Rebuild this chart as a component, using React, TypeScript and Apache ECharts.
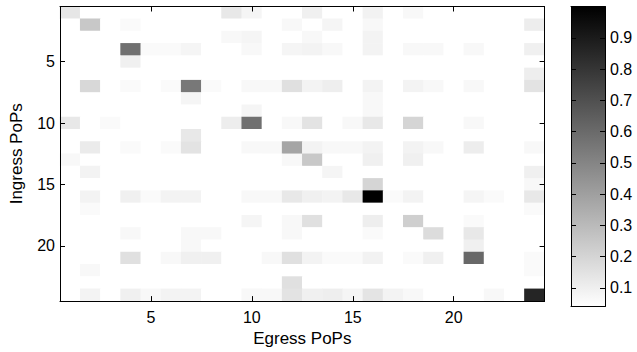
import React, { useEffect, useRef } from "react";
import * as echarts from "echarts";

// floor value (white cells)
const _ = 0.04;
const CMIN = 0.04;
const CMAX = 1.0;

const EGRESS_POPS = ["1","2","3","4","5","6","7","8","9","10","11","12","13","14","15","16","17","18","19","20","21","22","23","24"];
const INGRESS_POPS = ["1","2","3","4","5","6","7","8","9","10","11","12","13","14","15","16","17","18","19","20","21","22","23","24"];

const X_TICKS = [5, 10, 15, 20];
const Y_TICKS = [5, 10, 15, 20];
const CBAR_TICKS = [0.1, 0.2, 0.3, 0.4, 0.5, 0.6, 0.7, 0.8, 0.9];

// rows = ingress PoP, columns = egress PoP
const ROW_01 = [0.134,_,_,_,_,_,_,_,0.127,0.078,_,_,0.096,_,_,0.09,_,0.066,_,_,_,_,_,_];
const ROW_02 = [_,0.247,_,0.059,_,_,_,_,_,_,_,0.066,_,0.078,_,0.066,_,_,_,_,_,_,_,0.108];
const ROW_03 = [_,_,_,_,_,_,_,_,0.066,0.078,_,_,0.066,_,_,0.085,_,_,_,_,_,_,_,_];
const ROW_04 = [_,_,_,0.578,0.059,0.059,0.078,_,_,0.066,_,0.078,0.085,0.066,_,0.085,_,0.066,0.066,_,0.066,_,_,0.096];
const ROW_05 = [_,_,_,0.096,_,_,_,_,_,_,_,_,_,_,_,_,_,_,_,_,_,_,_,_];
const ROW_06 = [_,_,_,_,_,_,_,_,_,_,_,_,_,_,_,_,_,_,_,_,_,_,_,0.104];
const ROW_07 = [_,0.187,_,0.059,_,0.059,0.548,0.059,_,0.066,0.066,0.157,0.085,0.104,_,0.085,_,0.085,0.066,_,0.066,_,_,0.145];
const ROW_08 = [_,_,_,_,_,_,0.078,_,_,_,_,_,_,_,_,0.066,_,_,_,_,_,_,_,_];
const ROW_09 = [_,_,_,_,_,_,_,_,_,0.078,_,_,_,_,_,0.066,_,_,_,_,_,_,_,_];
const ROW_10 = [0.127,_,0.059,_,_,_,_,_,0.108,0.578,_,0.066,0.145,_,0.066,0.127,_,0.198,_,_,0.066,_,_,_];
const ROW_11 = [_,_,_,_,_,_,0.127,_,_,_,_,_,_,_,_,_,_,_,_,_,_,_,_,_];
const ROW_12 = [_,0.115,_,0.059,_,0.059,0.145,_,_,0.066,0.066,0.379,0.085,0.066,0.066,0.085,_,0.085,0.066,_,0.108,_,_,0.066];
const ROW_13 = [0.066,_,_,_,_,_,_,_,_,_,_,0.066,0.247,_,_,0.096,_,0.096,_,_,_,_,_,_];
const ROW_14 = [_,0.085,_,_,_,_,_,_,_,_,_,_,_,0.078,_,_,_,_,_,_,_,_,_,0.096];
const ROW_15 = [_,_,_,_,_,_,_,_,_,_,_,_,_,_,_,0.198,_,_,_,_,_,_,_,0.066];
const ROW_16 = [_,0.085,_,0.096,0.059,0.085,0.085,_,_,0.066,0.066,0.127,0.096,0.085,0.127,1.0,0.059,0.085,_,_,0.078,0.059,_,0.127];
const ROW_17 = [_,0.059,_,_,_,_,_,_,_,_,_,_,_,_,_,_,_,_,_,_,_,_,_,0.059];
const ROW_18 = [_,_,_,_,_,_,_,_,_,0.078,_,0.066,0.157,_,_,0.104,_,0.221,_,_,0.059,_,_,_];
const ROW_19 = [_,_,_,0.066,_,_,0.066,0.066,_,_,_,0.066,_,_,_,0.059,_,_,0.172,_,0.127,_,_,_];
const ROW_20 = [_,_,_,_,_,_,0.066,_,_,_,_,_,_,_,_,_,_,_,_,_,0.096,_,_,_];
const ROW_21 = [_,_,_,0.157,_,0.066,0.096,0.096,_,_,0.066,0.157,0.085,0.059,0.059,0.09,_,0.059,0.096,_,0.608,_,_,0.059];
const ROW_22 = [_,0.066,_,_,_,_,_,_,_,_,_,_,_,_,_,_,_,_,_,_,_,_,_,0.059];
const ROW_23 = [_,_,_,_,_,_,_,_,_,_,_,0.157,_,_,_,_,_,_,_,_,_,_,_,_];
const ROW_24 = [_,0.085,_,0.096,0.066,0.085,0.085,_,_,0.066,0.066,0.145,0.096,0.104,0.078,0.14,0.085,0.066,_,_,_,0.066,_,0.861];

const MATRIX = [ROW_01,ROW_02,ROW_03,ROW_04,ROW_05,ROW_06,ROW_07,ROW_08,ROW_09,ROW_10,ROW_11,ROW_12,
  ROW_13,ROW_14,ROW_15,ROW_16,ROW_17,ROW_18,ROW_19,ROW_20,ROW_21,ROW_22,ROW_23,ROW_24];

const FONT = "'Liberation Sans', Arial, Helvetica, sans-serif";

export default function App() {
  const ref = useRef<HTMLDivElement>(null);
  useEffect(() => {
    if (!ref.current) return;
    const chart = echarts.init(ref.current, null, { renderer: "svg" });
    const data: number[][] = [];
    MATRIX.forEach((row, r) => row.forEach((v, c) => data.push([c, r, v])));

    const line = { show: true, lineStyle: { color: "#000", width: 1 } };
    const tickX = (i: number) => X_TICKS.includes(i + 1);
    const tickY = (i: number) => Y_TICKS.includes(i + 1);
    const labelStyle = { color: "#000", fontSize: 16, fontFamily: FONT };
    const nameStyle = { color: "#000", fontSize: 17, fontFamily: FONT };
    const Z = 100;

    const GL = 57.6, GT = 6.5, GW = 487, GH = 300;
    const CL = 571, CT = 6.5, CW = 34, CH = 300;

    chart.setOption({
      animation: false,
      backgroundColor: "#ffffff",
      grid: [
        { left: GL, top: GT, width: GW, height: GH },
        { left: CL, top: CT, width: CW, height: CH },
      ],
      xAxis: [
        {
          type: "category", gridIndex: 0, data: EGRESS_POPS, position: "bottom", z: Z,
          axisLine: line,
          axisTick: { show: true, inside: true, length: 5, alignWithLabel: true, interval: tickX, lineStyle: { color: "#000" } },
          axisLabel: { ...labelStyle, interval: tickX, margin: 8 },
          splitLine: { show: false },
          name: "Egress PoPs", nameLocation: "middle", nameGap: 27,
          nameTextStyle: { ...nameStyle },
        },
        {
          type: "category", gridIndex: 0, data: EGRESS_POPS, position: "top", z: Z,
          axisLine: line,
          axisTick: { show: true, inside: true, length: 5, alignWithLabel: true, interval: tickX, lineStyle: { color: "#000" } },
          axisLabel: { show: false },
          splitLine: { show: false },
        },
        {
          type: "category", gridIndex: 1, data: ["c"], position: "bottom", z: Z,
          axisLine: line, axisTick: { show: false }, axisLabel: { show: false }, splitLine: { show: false },
        },
        {
          type: "category", gridIndex: 1, data: ["c"], position: "top", z: Z,
          axisLine: line, axisTick: { show: false }, axisLabel: { show: false }, splitLine: { show: false },
        },
      ],
      yAxis: [
        {
          type: "category", gridIndex: 0, data: INGRESS_POPS, inverse: true, position: "left", z: Z,
          axisLine: line,
          axisTick: { show: true, inside: true, length: 5, alignWithLabel: true, interval: tickY, lineStyle: { color: "#000" } },
          axisLabel: { ...labelStyle, interval: tickY, margin: 5 },
          splitLine: { show: false },
          name: "Ingress PoPs", nameLocation: "middle", nameGap: 35, nameRotate: 90,
          nameTextStyle: { ...nameStyle },
        },
        {
          type: "category", gridIndex: 0, data: INGRESS_POPS, inverse: true, position: "right", z: Z,
          axisLine: line,
          axisTick: { show: true, inside: true, length: 5, alignWithLabel: true, interval: tickY, lineStyle: { color: "#000" } },
          axisLabel: { show: false },
          splitLine: { show: false },
        },
        {
          type: "value", gridIndex: 1, min: CMIN, max: CMAX, position: "right", z: Z,
          axisLine: line,
          axisTick: { show: true, inside: true, length: 5, customValues: CBAR_TICKS, lineStyle: { color: "#000" } },
          axisLabel: { ...labelStyle, customValues: CBAR_TICKS, margin: 5, formatter: (v: number) => v.toFixed(1) },
          splitLine: { show: false },
        },
        {
          type: "value", gridIndex: 1, min: CMIN, max: CMAX, position: "left", z: Z,
          axisLine: line,
          axisTick: { show: true, inside: true, length: 5, customValues: CBAR_TICKS, lineStyle: { color: "#000" } },
          axisLabel: { show: false },
          splitLine: { show: false },
        },
      ],
      visualMap: {
        type: "continuous", show: false, min: CMIN, max: CMAX, seriesIndex: 0,
        inRange: { color: ["#ffffff", "#000000"] },
      },
      graphic: [
        {
          type: "rect", z: 0,
          shape: { x: CL, y: CT, width: CW, height: CH },
          style: {
            fill: new echarts.graphic.LinearGradient(0, 0, 0, 1, [
              { offset: 0, color: "#000000" },
              { offset: 1, color: "#ffffff" },
            ]),
          },
        },
      ],
      series: [
        {
          type: "heatmap", xAxisIndex: 0, yAxisIndex: 0, data,
          itemStyle: { borderWidth: 0 },
          emphasis: { disabled: true },
        },
      ],
    });
    return () => chart.dispose();
  }, []);
  return (
    <div
      ref={ref}
      style={{ position: "absolute", left: 0, top: 0, width: 637, height: 352, background: "#fff" }}
    />
  );
}
